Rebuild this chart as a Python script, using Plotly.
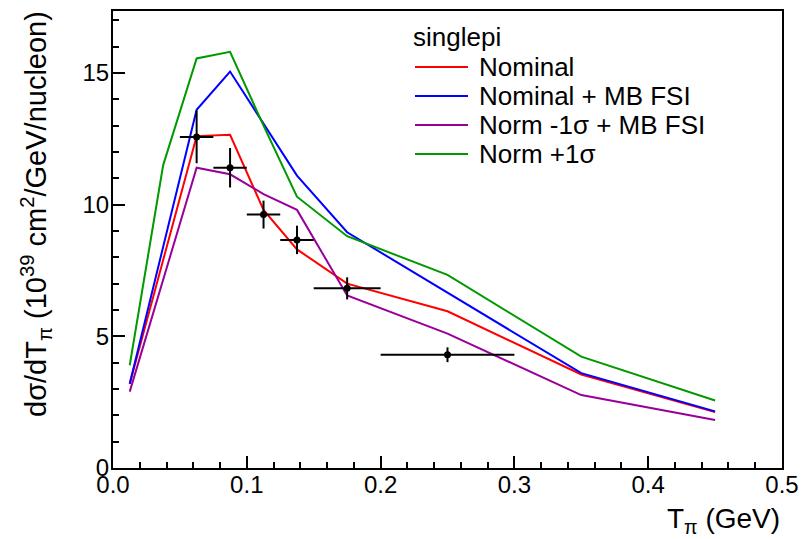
import plotly.graph_objects as go

# ---- data ----
x_model = [0.0125, 0.0375, 0.0625, 0.0875, 0.1125, 0.1375, 0.175, 0.25, 0.35, 0.45]
nominal = [3.2, 7.9, 12.6, 12.65, 9.8, 8.3, 7.0, 5.95, 3.55, 2.12]
nominal_mbfsi = [3.2, 8.4, 13.6, 15.05, 13.1, 11.1, 8.95, 6.65, 3.6, 2.15]
norm_minus_mbfsi = [2.9, 7.15, 11.4, 11.15, 10.4, 9.8, 6.55, 5.1, 2.77, 1.82]
norm_plus = [3.9, 11.5, 15.55, 15.8, 13.0, 10.3, 8.8, 7.33, 4.23, 2.56]

x_data = [0.0625, 0.0875, 0.1125, 0.1375, 0.175, 0.25]
y_data = [12.57, 11.4, 9.62, 8.66, 6.82, 4.3]
x_err = [0.0125, 0.0125, 0.0125, 0.0125, 0.025, 0.05]
y_err = [1.0, 0.75, 0.53, 0.54, 0.42, 0.28]

series_names = ["Nominal", "Nominal + MB FSI", "Norm -1σ + MB FSI", "Norm +1σ"]
series_values = [nominal, nominal_mbfsi, norm_minus_mbfsi, norm_plus]
series_colors = ["#ff0000", "#0000ff", "#990099", "#009900"]
legend_header = "singlepi"

FONT = "Liberation Sans, Arial, sans-serif"

fig = go.Figure()
for name, vals, col in zip(series_names, series_values, series_colors):
    fig.add_trace(go.Scatter(x=x_model, y=vals, mode="lines", name=name,
                             line=dict(color=col, width=2), showlegend=False))

fig.add_trace(go.Scatter(
    x=x_data, y=y_data, mode="markers", showlegend=False,
    marker=dict(color="black", size=7, symbol="circle"),
    error_x=dict(type="data", array=x_err, color="black", thickness=2, width=0),
    error_y=dict(type="data", array=y_err, color="black", thickness=2, width=0),
))

# ---- manual legend (paper coords) ----
L, R, T, B = 113, 782, 11, 468
W, H = R - L, B - T
def px(x):
    return (x - L) / W
def py(y):
    return (B - y) / H

shapes = []
annotations = []
row_y = [67, 96, 125, 154]
for name, col, yy in zip(series_names, series_colors, row_y):
    shapes.append(dict(type="line", xref="paper", yref="paper",
                       x0=px(415), x1=px(468), y0=py(yy), y1=py(yy),
                       line=dict(color=col, width=2)))
    annotations.append(dict(xref="paper", yref="paper", x=px(477), y=py(yy),
                            xanchor="left", yanchor="middle", text=name,
                            showarrow=False, font=dict(family=FONT, size=26, color="black")))
annotations.append(dict(xref="paper", yref="paper", x=px(411), y=py(37),
                        xanchor="left", yanchor="middle", text=legend_header,
                        showarrow=False, font=dict(family=FONT, size=26, color="black")))

# axis titles
annotations.append(dict(xref="paper", yref="paper", x=1, y=0, xanchor="right", yanchor="middle",
                        yshift=-52, text="T<sub>π</sub> (GeV)", showarrow=False,
                        font=dict(family=FONT, size=28, color="black")))
annotations.append(dict(xref="paper", yref="paper", x=0, y=1, xanchor="center", yanchor="top",
                        xshift=-77, yshift=2, textangle=-90,
                        text="dσ/dT<sub>π</sub> (10<sup>39</sup> cm<sup>2</sup>/GeV/nucleon)",
                        showarrow=False, font=dict(family=FONT, size=29, color="black")))

fig.update_layout(
    width=812, height=539,
    margin=dict(l=L, r=812 - R, t=T, b=539 - B),
    paper_bgcolor="white", plot_bgcolor="white",
    shapes=shapes, annotations=annotations,
    font=dict(family=FONT, size=24, color="black"),
)
fig.update_xaxes(range=[0, 0.5], dtick=0.1, tick0=0, tickformat=".1f",
                 ticks="inside", ticklen=12, tickwidth=1.5, tickcolor="black",
                 minor=dict(dtick=0.02, ticks="inside", ticklen=6, tickwidth=1.5, tickcolor="black"),
                 showline=True, linecolor="black", linewidth=2, mirror=True,
                 showgrid=False, zeroline=False, automargin=False, ticklabelstandoff=-6,
                 tickfont=dict(family=FONT, size=24, color="black"))
fig.update_yaxes(range=[0, 17.35], dtick=5, tick0=0,
                 ticks="inside", ticklen=12, tickwidth=1.5, tickcolor="black",
                 minor=dict(dtick=1, ticks="inside", ticklen=6, tickwidth=1.5, tickcolor="black"),
                 showline=True, linecolor="black", linewidth=2, mirror=True,
                 showgrid=False, zeroline=False, automargin=False, ticklabelstandoff=-3,
                 tickfont=dict(family=FONT, size=24, color="black"))

fig.write_html("out.html", config={"displayModeBar": False},
               post_script="document.body.style.margin='0';")
